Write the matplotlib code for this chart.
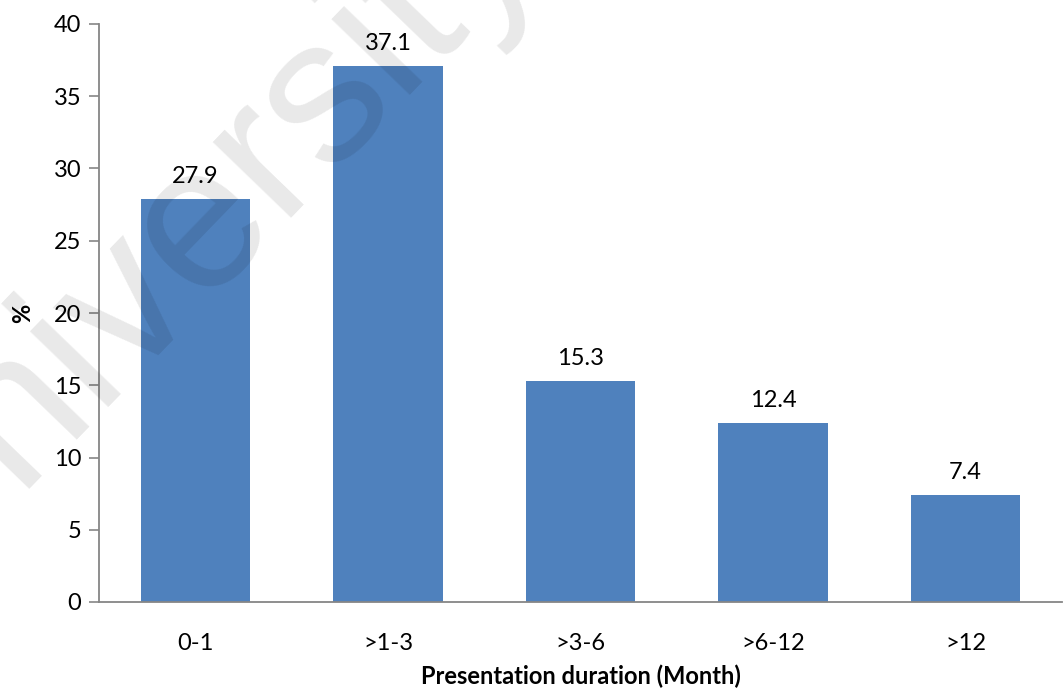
import matplotlib
matplotlib.use("Agg")
import matplotlib.pyplot as plt

categories = ["0-1", ">1-3", ">3-6", ">6-12", ">12"]
values = [27.9, 37.1, 15.3, 12.4, 7.4]
yticks = [0, 5, 10, 15, 20, 25, 30, 35, 40]

plt.rcParams['font.family'] = ['Lato', 'DejaVu Sans']

fig = plt.figure(figsize=(10.63, 6.9), dpi=100)
ax = fig.add_axes([99.25/1063, 1-602/690, 962.5/1063, (602-24)/690])

x = range(len(categories))
ax.bar(x, values, width=0.571, color='#4f81bd', zorder=2)
for xi, v in zip(x, values):
    ax.text(xi, v + 0.85, f"{v}", ha='center', va='bottom', fontsize=17, color='black')

ax.set_xlim(-0.5, len(categories) - 0.5)
ax.set_ylim(0, 40)
ax.set_yticks(yticks)
ax.set_xticks(list(x))
ax.set_xticklabels(categories, fontsize=17)
ax.tick_params(axis='y', labelsize=17, length=7, width=1.2, color='#868686', direction='out', pad=6)
ax.tick_params(axis='x', length=0, pad=22)

for s in ['top', 'right']:
    ax.spines[s].set_visible(False)
for s in ['left', 'bottom']:
    ax.spines[s].set_color('#868686')
    ax.spines[s].set_linewidth(1.3)

ax.set_xlabel("Presentation duration (Month)", fontsize=17, fontweight='bold', labelpad=8)
ax.set_ylabel("%", fontsize=17, fontweight='bold', labelpad=14)

fig.text(0.176, 0.662, "University", rotation=46, fontsize=148,
         family=['Liberation Sans Narrow', 'Liberation Sans', 'DejaVu Sans'],
         color='black', alpha=0.09, ha='center', va='center', zorder=10,
         rotation_mode='anchor')

fig.savefig("out.png", dpi=100)
